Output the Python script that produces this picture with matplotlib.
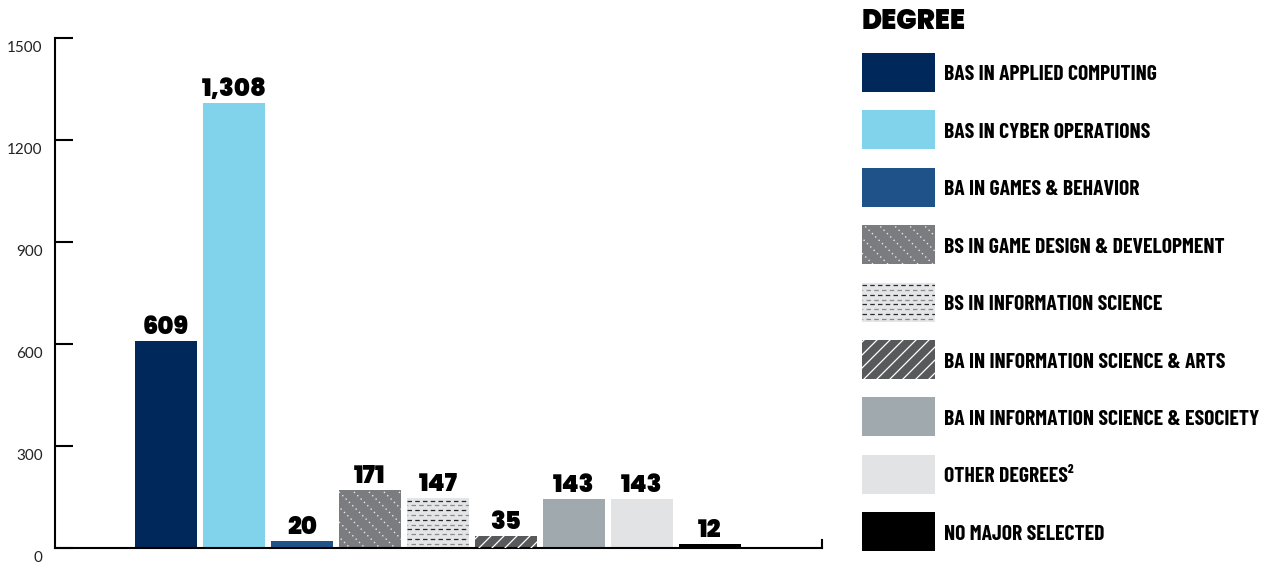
import os
import numpy as np
import matplotlib
matplotlib.use("Agg")
import matplotlib.pyplot as plt
from matplotlib.patches import Rectangle
from matplotlib.lines import Line2D
from matplotlib.transforms import IdentityTransform, ScaledTranslation
from matplotlib import font_manager as fm
from matplotlib.font_manager import FontProperties

# ---- data ----
degrees = [
    "BAS IN APPLIED COMPUTING",
    "BAS IN CYBER OPERATIONS",
    "BA IN GAMES & BEHAVIOR",
    "BS IN GAME DESIGN & DEVELOPMENT",
    "BS IN INFORMATION SCIENCE",
    "BA IN INFORMATION SCIENCE & ARTS",
    "BA IN INFORMATION SCIENCE & ESOCIETY",
    "OTHER DEGREES\u00b2",
    "NO MAJOR SELECTED",
]
students = [609, 1308, 20, 171, 147, 35, 143, 143, 12]
colors = ["#00285a", "#81d3eb", "#1e5288", "#7b7c80", "#e4e5e6",
          "#58595b", "#a0aaae", "#e2e3e4", "#000000"]
patterns = [None, None, None, "dots", "dashes", "slash", None, None, None]
yticks = [0, 300, 600, 900, 1200, 1500]
legend_title = "DEGREE"


# ---- fonts ----
def font(basename, family, weight="normal", size=10):
    for f in fm.fontManager.ttflist:
        if os.path.basename(f.fname) == basename:
            return FontProperties(fname=f.fname, size=size)
    return FontProperties(family=family, weight=weight, size=size)


fp_value = font("Poppins-Black.ttf", "DejaVu Sans", "bold", 17.5)
fp_title = font("Poppins-Black.ttf", "DejaVu Sans", "bold", 19.5)
fp_tick = font("Lato-Regular.ttf", "DejaVu Sans", "normal", 11)
fp_leg = font("BarlowCondensed-Bold.ttf", "DejaVu Sans", "bold", 15)

W, H = 1265, 562
fig = plt.figure(figsize=(W / 100, H / 100), dpi=100)
ax = fig.add_axes([55 / W, 14 / H, (822 - 55) / W, (548 - 38) / H])

x = np.arange(len(students))
bars = ax.bar(x, students, width=0.91, color=colors, linewidth=0, zorder=2)
ax.set_xlim(-1.632, 9.647)
ax.set_ylim(0, 1500)

for b, v in zip(bars, students):
    ax.annotate(f"{v:,}", (b.get_x() + b.get_width() / 2, v),
                xytext=(0, 5), textcoords="offset points",
                ha="center", va="baseline", fontproperties=fp_value,
                color="black")

ax.spines["top"].set_visible(False)
for s in ["left", "bottom", "right"]:
    ax.spines[s].set_linewidth(1.5)
ax.spines["right"].set_bounds(0, 24)
ax.set_xticks([])
ax.set_yticks(yticks)
ax.set_yticklabels([str(t) for t in yticks], fontproperties=fp_tick,
                   color="#222222")
ax.tick_params(axis="y", direction="in", length=13, width=1.5, pad=9)
shift = ScaledTranslation(0, -8 / 100, fig.dpi_scale_trans)
for lab in ax.get_yticklabels():
    lab.set_transform(lab.get_transform() + shift)


def decorate(patch, kind):
    """Overlay a fine line texture clipped to a rectangle patch."""
    if kind is None:
        return
    pts = patch.get_transform().transform(patch.get_path().vertices)
    x0, x1 = pts[:, 0].min(), pts[:, 0].max()
    y0, y1 = pts[:, 1].min(), pts[:, 1].max()
    lines = []
    if kind == "dots":
        for c in np.arange(x0 + y0 - 4, x1 + y1 + 15, 15):
            lines.append(Line2D([c - y0 + 20, c - y1 - 20], [y0 - 20, y1 + 20],
                                color="#e8e8ea", lw=1.0,
                                linestyle=(0, (1.0, 2.4))))
    elif kind == "slash":
        for c in np.arange(y0 - (x1 - x0) - 20, y1 + 20, 13):
            lines.append(Line2D([x0 - 30, x1 + 30],
                                [c - 30, c + (x1 - x0) + 30],
                                color="white", lw=0.9))
    elif kind == "dashes":
        for i, yy in enumerate(np.arange(y1 - 2.5, y0, -4.8)):
            col = "#2a2a2a" if i % 2 == 0 else "#8a8a8a"
            off = 0 if i % 2 == 0 else 3
            lines.append(Line2D([x0, x1], [yy, yy], color=col, lw=0.9,
                                linestyle=(off, (3.6, 2.6))))
    for ln in lines:
        ln.set_transform(IdentityTransform())
        ln.set_clip_path(patch)
        ln.set_zorder(3)
        fig.add_artist(ln)


for b, k in zip(bars, patterns):
    decorate(b, k)

# ---- legend ----
fig.text(862 / W, 1 - 29 / H, legend_title, fontproperties=fp_title,
         va="baseline", ha="left", color="black")
top0, step = 53, 57.4
texts = []
for i, (name, c, k) in enumerate(zip(degrees, colors, patterns)):
    top = top0 + i * step
    r = Rectangle((862 / W, 1 - (top + 39) / H), 73 / W, 39 / H,
                  transform=fig.transFigure, facecolor=c, linewidth=0)
    fig.add_artist(r)
    decorate(r, k)
    texts.append(fig.text(944 / W, 1 - (top + 27.5) / H, name,
                          fontproperties=fp_leg, va="baseline", ha="left",
                          color="black"))

# size the legend labels so the longest one fits inside the figure
renderer = fig.canvas.get_renderer()
widest = max(t.get_window_extent(renderer).width for t in texts)
size = fp_leg.get_size() * 314 / widest
for t in texts:
    t.set_fontsize(size)

fig.savefig("out.png", dpi=100)
